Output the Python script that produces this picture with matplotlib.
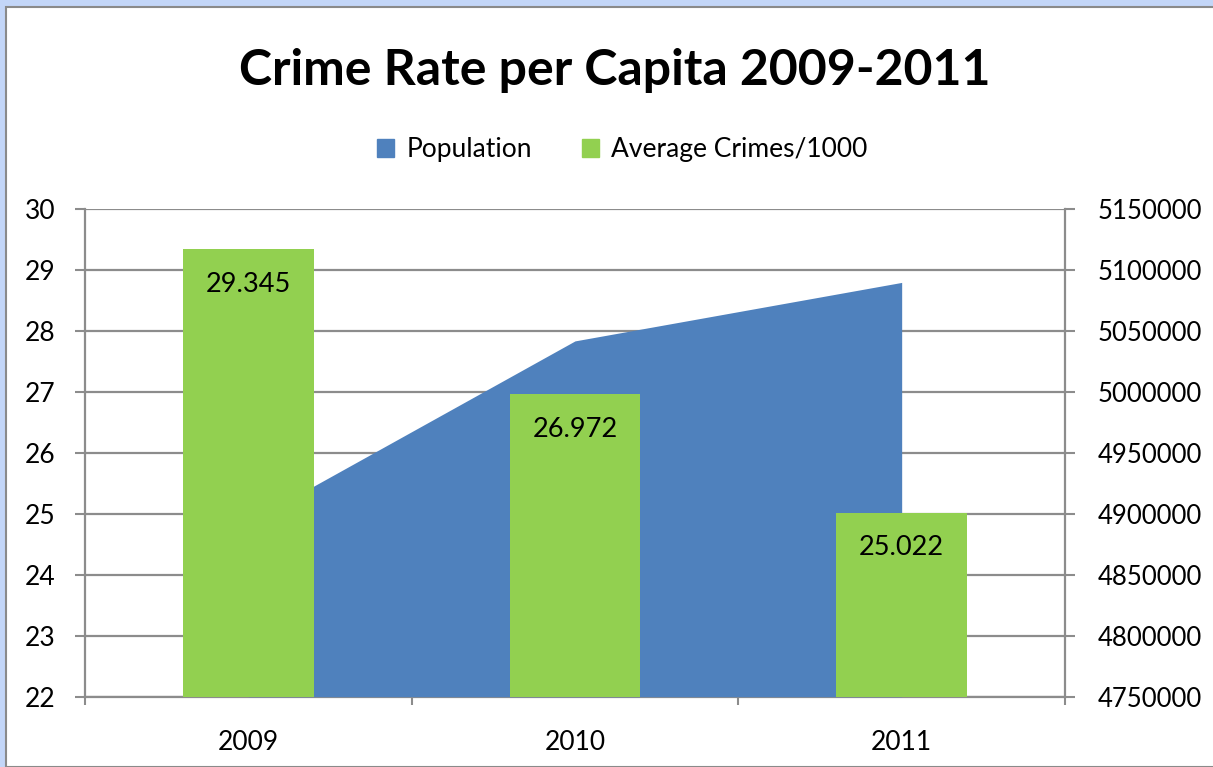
import matplotlib.pyplot as plt
import matplotlib.patches as mpatches
import numpy as np

# Data
years = ["2009", "2010", "2011"]
population = [4893000, 5042000, 5090000]
crimes_per_1000 = [29.345, 26.972, 25.022]

blue = "#4f81bd"
green = "#92d050"
grid_gray = "#8c8c8c"

plt.rcParams['font.family'] = ['Lato', 'DejaVu Sans']

fig = plt.figure(figsize=(12.13, 7.67), dpi=100)

# light blue frame on top and left edge
fig.patches.append(mpatches.Rectangle((0, 0), 1, 1, transform=fig.transFigure,
                                      facecolor="#c3d6f8", edgecolor="none", zorder=-10))
fig.patches.append(mpatches.Rectangle((6 / 1213, 0), 1, 1 - 7 / 767, transform=fig.transFigure,
                                      facecolor="white", edgecolor="#8a8a8a", linewidth=1.5, zorder=-9))

ax = fig.add_axes([85 / 1213, 1 - 696.7 / 767, 980 / 1213, 487.4 / 767])
ax2 = ax.twinx()

x = np.arange(len(years))

# population area on the secondary axis, behind the bars
ax2.fill_between(x, population, 4750000, color=blue, linewidth=0, label="Population")
ax2.set_ylim(4750000, 5150000)
ax2.set_yticks(np.arange(4750000, 5150001, 50000))
ax2.set_yticklabels([str(v) for v in np.arange(4750000, 5150001, 50000)])

# bars on the primary scale, drawn on a third axis on top so they cover the area
ax3 = ax.twinx()
bars = ax3.bar(x, crimes_per_1000, width=0.4, color=green, label="Average Crimes/1000", zorder=3)
ax3.set_ylim(22, 30)
ax3.axis("off")
for b, v in zip(bars, crimes_per_1000):
    ax3.text(b.get_x() + b.get_width() / 2, v - 0.58, f"{v:.3f}",
             ha="center", va="center", fontsize=19.5, color="black")

ax.set_ylim(22, 30)
ax.set_yticks(range(22, 31))
ax.set_xlim(-0.5, 2.5)
ax.set_xticks(x)
ax.set_xticklabels(years)
ax.set_xticks([-0.5, 0.5, 1.5, 2.5], minor=True)
ax.yaxis.grid(True, color=grid_gray, linewidth=1.6)
ax.set_axisbelow(True)

for a in (ax, ax2):
    for s in a.spines.values():
        s.set_color(grid_gray)
        s.set_linewidth(1.6)
    a.spines["top"].set_visible(False)
ax2.spines["left"].set_visible(False)
ax2.spines["bottom"].set_visible(False)
ax.spines["right"].set_visible(False)

ax.tick_params(axis="y", length=7.2, width=1.5, color=grid_gray, labelsize=19, pad=14)
ax2.tick_params(axis="y", length=7.2, width=1.5, color=grid_gray, labelsize=18.5, pad=16)
ax.tick_params(axis="x", which="major", length=0, labelsize=19, pad=24)
ax.tick_params(axis="x", which="minor", length=6, width=1.5, color=grid_gray)

fig.text(0.507, 0.908, "Crime Rate per Capita 2009-2011", ha="center", va="center",
         fontsize=36, fontweight="bold")

handles = [mpatches.Patch(color=blue, label="Population"),
           mpatches.Patch(color=green, label="Average Crimes/1000")]
fig.legend(handles=handles, loc="center", bbox_to_anchor=(0.513, 0.805), ncol=2,
           frameon=False, fontsize=19, handlelength=0.65, handleheight=0.65,
           handletextpad=0.45, columnspacing=1.9)

fig.savefig("out.png", dpi=100)
